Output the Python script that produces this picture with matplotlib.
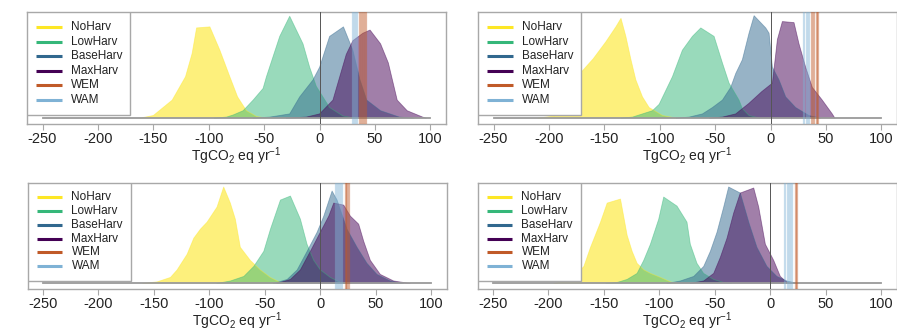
import matplotlib
matplotlib.use("Agg")
import matplotlib.pyplot as plt
from matplotlib.patches import Rectangle

plt.rcParams['font.family'] = ['Liberation Sans', 'DejaVu Sans']
plt.rcParams['mathtext.fontset'] = 'custom'
plt.rcParams['mathtext.rm'] = 'Liberation Sans'
plt.rcParams['mathtext.it'] = 'Liberation Sans:italic'

# ---------------- data (density polygons, scaled heights) ----------------
scenarios = ["NoHarv", "LowHarv", "BaseHarv", "MaxHarv", "WEM", "WAM"]
colors = ["#FDE725", "#35B779", "#31688E", "#440154", "#C05A28", "#7FB2D5"]
xticks = [-250, -200, -150, -100, -50, 0, 50, 100]
xlabel = r"TgCO$_2$ eq yr$^{-1}$"

# Panel 1 (top left)
p1_noharv_x = [-162, -150, -133, -121, -115, -111, -99, -90, -81, -74, -66, -57, -48]
p1_noharv_y = [0, 0.025, 0.17, 0.39, 0.61, 0.85, 0.86, 0.64, 0.39, 0.2, 0.07, 0.016, 0]
p1_lowharv_x = [-95, -84, -78, -69, -60, -51, -48, -42, -36, -27, -15, -9, -3, 9, 21, 32]
p1_lowharv_y = [0, 0.01, 0.03, 0.07, 0.17, 0.28, 0.39, 0.58, 0.77, 0.96, 0.70, 0.48, 0.30, 0.10, 0.02, 0]
p1_baseharv_x = [-60, -45, -27, -18, -6, 0, 9, 21.5, 30, 36.5, 42.5, 55, 72, 85]
p1_baseharv_y = [0, 0.01, 0.04, 0.2, 0.36, 0.48, 0.77, 0.86, 0.64, 0.36, 0.17, 0.07, 0.01, 0]
p1_maxharv_x = [-30, -12, 0, 12, 24, 30, 39, 45.5, 55, 62, 70, 79, 93, 96]
p1_maxharv_y = [0, 0.01, 0.04, 0.17, 0.6, 0.73, 0.8, 0.83, 0.70, 0.52, 0.17, 0.07, 0.01, 0]
p1_wem = [36, 38, 40, 42]
p1_wam = [30, 32, 33.5]

# Panel 2 (top right)
p2_noharv_x = [-210, -195, -185, -172, -160, -148.6, -139.6, -135, -130.6, -126, -121.6, -115.6, -109.6, -97.6, -85]
p2_noharv_y = [0, 0.02, 0.1, 0.42, 0.56, 0.72, 0.86, 0.94, 0.77, 0.55, 0.36, 0.2, 0.1, 0.025, 0]
p2_lowharv_x = [-135, -124.6, -115.6, -106.6, -100.6, -94.6, -88.6, -79.6, -70.6, -63, -51, -43.5, -37.5, -28.5, -25.5, -19.5, -10]
p2_lowharv_y = [0, 0.01, 0.04, 0.07, 0.13, 0.26, 0.39, 0.64, 0.77, 0.85, 0.77, 0.52, 0.33, 0.17, 0.09, 0.025, 0]
p2_baseharv_x = [-85, -73.5, -61.5, -52.5, -43.5, -36, -31.5, -25.5, -19.5, -14.9, -4.4, -1.4, 1.6, 7.6, 13.6, 22.6, 34.6, 45]
p2_baseharv_y = [0, 0.01, 0.04, 0.1, 0.17, 0.29, 0.42, 0.55, 0.8, 0.965, 0.85, 0.8, 0.48, 0.36, 0.2, 0.1, 0.025, 0]
p2_maxharv_x = [-55, -43.5, -31.5, -19.5, -8, 1.6, 6.1, 10.6, 21.1, 25.6, 31.6, 37.6, 46.6, 55.6, 58]
p2_maxharv_y = [0, 0.01, 0.04, 0.14, 0.25, 0.33, 0.74, 0.91, 0.9, 0.7, 0.48, 0.29, 0.17, 0.04, 0]
p2_wem = [37.5, 39.5, 41.5, 43]
p2_wam = [30.5, 32.5, 35]

# Panel 3 (bottom left)
p3_noharv_x = [-160, -147, -135, -129, -120, -114, -108, -102, -93, -87, -81, -76.5, -72, -63, -54, -45, -36, -30]
p3_noharv_y = [0, 0.016, 0.06, 0.135, 0.29, 0.45, 0.54, 0.61, 0.76, 0.96, 0.8, 0.64, 0.36, 0.23, 0.135, 0.06, 0.01, 0]
p3_lowharv_x = [-93, -80.8, -68.8, -59.8, -50.8, -44.8, -35.8, -26.8, -17.8, -11.8, -5.8, 0.2, 9.2, 18.2, 25]
p3_lowharv_y = [0, 0.025, 0.07, 0.17, 0.32, 0.54, 0.83, 0.87, 0.64, 0.39, 0.23, 0.135, 0.06, 0.01, 0]
p3_baseharv_x = [-42, -29.7, -20.7, -11.7, -2.7, 3.3, 10.8, 15.3, 24.3, 33.3, 42.3, 51.3, 63.3, 75]
p3_baseharv_y = [0, 0.04, 0.135, 0.32, 0.51, 0.67, 0.92, 0.83, 0.54, 0.36, 0.2, 0.09, 0.025, 0]
p3_maxharv_x = [-39, -26.8, -17.8, -8.8, 0.2, 7.8, 12.3, 21.3, 27.3, 34.8, 39.3, 45.3, 54.3, 66.3, 81]
p3_maxharv_y = [0, 0.04, 0.135, 0.32, 0.51, 0.67, 0.8, 0.78, 0.67, 0.59, 0.42, 0.23, 0.09, 0.025, 0]
p3_wem = [23, 24.5, 26]
p3_wam = [14, 16, 18, 20]

# Panel 4 (bottom right)
p4_noharv_x = [-195, -180, -168, -162, -153, -147, -135, -129, -124.5, -120, -114, -108, -99, -90, -84]
p4_noharv_y = [0, 0.03, 0.17, 0.36, 0.61, 0.8, 0.84, 0.48, 0.32, 0.2, 0.135, 0.1, 0.06, 0.016, 0]
p4_lowharv_x = [-148, -138, -129, -120, -114, -108, -100.5, -96, -84, -75, -72, -66, -60, -51, -42, -35]
p4_lowharv_y = [0, 0.01, 0.04, 0.1, 0.23, 0.39, 0.64, 0.86, 0.77, 0.61, 0.39, 0.2, 0.1, 0.04, 0.01, 0]
p4_baseharv_x = [-93, -80.9, -68.9, -59.9, -53.9, -47.9, -41.9, -37.4, -26.9, -19, -11.9, -2.9, 6.1, 15.1, 25]
p4_baseharv_y = [0, 0.025, 0.07, 0.17, 0.32, 0.51, 0.76, 0.96, 0.9, 0.6, 0.36, 0.17, 0.07, 0.025, 0]
p4_maxharv_x = [-72, -59.9, -50.9, -44.9, -38.9, -32.9, -26.9, -14.8, -10.3, -4.3, 3.2, 9.2, 15.2, 20]
p4_maxharv_y = [0, 0.025, 0.1, 0.26, 0.45, 0.7, 0.9, 0.95, 0.76, 0.39, 0.23, 0.07, 0.01, 0]
p4_wem = [23, 24.3]
p4_wam = [13.5, 16, 18, 20]

panels = [
    dict(pos=[27/897, 1-124/332, 419/897, 112/332],
         dens=[(p1_noharv_x, p1_noharv_y), (p1_lowharv_x, p1_lowharv_y),
               (p1_baseharv_x, p1_baseharv_y), (p1_maxharv_x, p1_maxharv_y)],
         wem=p1_wem, wam=p1_wam),
    dict(pos=[478/897, 1-124/332, 419/897, 112/332],
         dens=[(p2_noharv_x, p2_noharv_y), (p2_lowharv_x, p2_lowharv_y),
               (p2_baseharv_x, p2_baseharv_y), (p2_maxharv_x, p2_maxharv_y)],
         wem=p2_wem, wam=p2_wam),
    dict(pos=[27.5/897, 1-289/332, 419/897, 106/332],
         dens=[(p3_noharv_x, p3_noharv_y), (p3_lowharv_x, p3_lowharv_y),
               (p3_baseharv_x, p3_baseharv_y), (p3_maxharv_x, p3_maxharv_y)],
         wem=p3_wem, wam=p3_wam),
    dict(pos=[477.5/897, 1-289/332, 419/897, 106/332],
         dens=[(p4_noharv_x, p4_noharv_y), (p4_lowharv_x, p4_lowharv_y),
               (p4_baseharv_x, p4_baseharv_y), (p4_maxharv_x, p4_maxharv_y)],
         wem=p4_wem, wam=p4_wam),
]

fig = plt.figure(figsize=(8.97, 3.32), dpi=100)
fig.patch.set_facecolor("white")
spine_col = "#A8A8A8"
fill_alpha = [0.6, 0.5, 0.5, 0.5]

for p in panels:
    ax = fig.add_axes(p["pos"])
    ax.set_xlim(-264, 114)
    ax.set_ylim(-0.055, 1.0)
    for (xs, ys), c, a in zip(p["dens"], colors[:4], fill_alpha):
        ax.fill(xs, ys, facecolor=c, alpha=a, edgecolor="none", zorder=2)
        ax.plot(xs, ys, color=c, alpha=0.45, lw=0.6, zorder=2.1)
    ax.plot([-250, 100], [0, 0], color="#9A9A9A", lw=1.3, zorder=2.5)
    ax.axvline(0, color="#555555", lw=0.7, zorder=3)
    for v in p["wam"]:
        ax.axvline(v, color=colors[5], lw=1.6, alpha=0.45, zorder=3)
    for v in p["wem"]:
        ax.axvline(v, color=colors[4], lw=1.6, alpha=0.45, zorder=3)

    ax.set_xticks(xticks)
    ax.set_xticklabels([str(t) for t in xticks], fontsize=10.5)
    ax.set_yticks([])
    ax.tick_params(axis="x", direction="out", length=4, width=0.8,
                   color=spine_col, pad=1.5, labelcolor="#222222")
    for s in ax.spines.values():
        s.set_color(spine_col)
        s.set_linewidth(1.0)
    ax.set_xlabel(xlabel, fontsize=10, labelpad=-0.5, color="#222222")

    # legend box
    ax.add_patch(Rectangle((0, 0.08), 0.246, 0.92, transform=ax.transAxes,
                           facecolor="white", edgecolor=spine_col, lw=1.0,
                           zorder=5))
    ys_leg = [0.866, 0.736, 0.606, 0.476, 0.346, 0.216]
    for name, c, yl in zip(scenarios, colors, ys_leg):
        ax.plot([0.022, 0.083], [yl, yl], transform=ax.transAxes, color=c,
                lw=2.2, solid_capstyle="butt", zorder=6)
        ax.text(0.105, yl, name, transform=ax.transAxes, fontsize=8.5,
                va="center", ha="left", color="#222222", zorder=6)

fig.savefig("out.png", dpi=100, facecolor="white")
